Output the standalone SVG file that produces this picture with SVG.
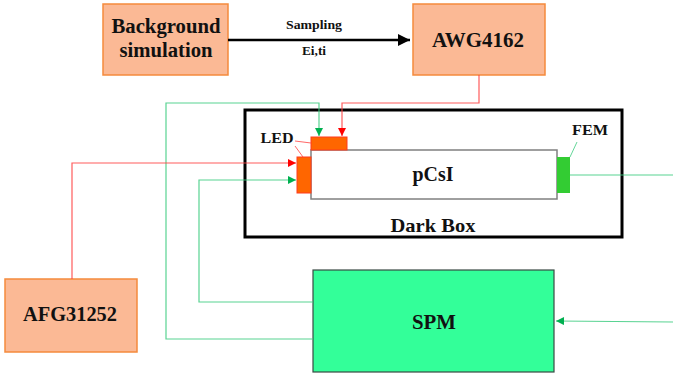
<svg xmlns="http://www.w3.org/2000/svg" width="673" height="375" viewBox="0 0 673 375">
<defs>
<style>
.t{font-family:"Liberation Serif","Times New Roman",serif;font-weight:bold;fill:#111;text-anchor:middle}
.inst{fill:#FBB995;stroke:#F58A3C;stroke-width:1.5}
.red{fill:none;stroke:#FF4040;stroke-width:1.2;stroke-opacity:0.85}
.grn{fill:none;stroke:#3CCB7F;stroke-width:1.2;stroke-opacity:0.85}
</style>
<marker id="ab" viewBox="0 0 10 10" refX="10" refY="5" markerWidth="5" markerHeight="5" orient="auto"><path d="M0,0L10,5L0,10z" fill="#000"/></marker>
<marker id="ar" viewBox="0 0 10 10" refX="10" refY="5" markerWidth="10" markerHeight="8" markerUnits="userSpaceOnUse" orient="auto"><path d="M0,0L10,5L0,10z" fill="#FF0000"/></marker>
<marker id="ag" viewBox="0 0 10 10" refX="10" refY="5" markerWidth="10" markerHeight="8" markerUnits="userSpaceOnUse" orient="auto"><path d="M0,0L10,5L0,10z" fill="#00B050"/></marker>
</defs>
<rect width="673" height="375" fill="#fff"/>

<g id="darkbox">
<rect x="245" y="110" width="377" height="127" fill="none" stroke="#000" stroke-width="3"/>
<text class="t" x="433" y="232" font-size="19" textLength="85" lengthAdjust="spacingAndGlyphs">Dark Box</text>
</g>

<g id="bgsim">
<rect class="inst" x="103" y="4" width="125" height="71"/>
<text class="t" x="166" y="33" font-size="20" textLength="109" lengthAdjust="spacingAndGlyphs">Background</text>
<text class="t" x="166" y="57" font-size="20" textLength="93" lengthAdjust="spacingAndGlyphs">simulation</text>
</g>

<g id="awg">
<rect class="inst" x="413" y="4" width="132" height="71"/>
<text class="t" x="478" y="47" font-size="20" textLength="92" lengthAdjust="spacingAndGlyphs">AWG4162</text>
</g>

<g id="afg">
<rect class="inst" x="5" y="279" width="132" height="73"/>
<text class="t" x="70" y="321" font-size="20" textLength="94" lengthAdjust="spacingAndGlyphs">AFG31252</text>
</g>

<g id="pcsi">
<rect x="311" y="150" width="246" height="49" fill="#fff" stroke="#808080" stroke-width="1.5"/>
<text class="t" x="433" y="181" font-size="20" textLength="41" lengthAdjust="spacingAndGlyphs">pCsI</text>
</g>

<g id="led">
<rect x="311" y="137" width="36" height="13" fill="#FF6600" stroke="#FF3B1E" stroke-width="1"/>
<rect x="297" y="157" width="14" height="36" fill="#FF6600" stroke="#FF3B1E" stroke-width="1"/>
<text class="t" x="277" y="143" font-size="14" textLength="33" lengthAdjust="spacingAndGlyphs">LED</text>
<path d="M295,141L311,143M295,146L303,157" fill="none" stroke="#FF4040" stroke-width="0.8"/>
</g>

<g id="fem">
<rect x="557" y="157" width="13" height="36" fill="#33CC33"/>
<text class="t" x="590" y="135" font-size="14" textLength="36" lengthAdjust="spacingAndGlyphs">FEM</text>
<path d="M577,142L570,157" fill="none" stroke="#3CCB7F" stroke-width="0.8"/>
</g>

<g id="spm">
<rect x="313" y="270" width="241" height="102" fill="#33FF99" stroke="#3A4A44" stroke-width="1.2"/>
<text class="t" x="434" y="329" font-size="20" textLength="44" lengthAdjust="spacingAndGlyphs">SPM</text>
</g>

<g id="connectors">
<line x1="228" y1="40" x2="410" y2="40" stroke="#000" stroke-width="2.5" marker-end="url(#ab)"/>
<text class="t" x="314" y="29" font-size="12" textLength="56" lengthAdjust="spacingAndGlyphs">Sampling</text>
<text class="t" x="314" y="55" font-size="12" textLength="24" lengthAdjust="spacingAndGlyphs">Ei,ti</text>
<path class="red" d="M479,75V103H342V136" marker-end="url(#ar)"/>
<path class="grn" d="M313,339H166V103H319V136" marker-end="url(#ag)"/>
<path class="red" d="M72,279V163H296" marker-end="url(#ar)"/>
<path class="grn" d="M313,302H199V180H296" marker-end="url(#ag)"/>
<path class="grn" d="M570,175H673"/>
<path class="grn" d="M673,322L556,321" marker-end="url(#ag)"/>
</g>
</svg>
